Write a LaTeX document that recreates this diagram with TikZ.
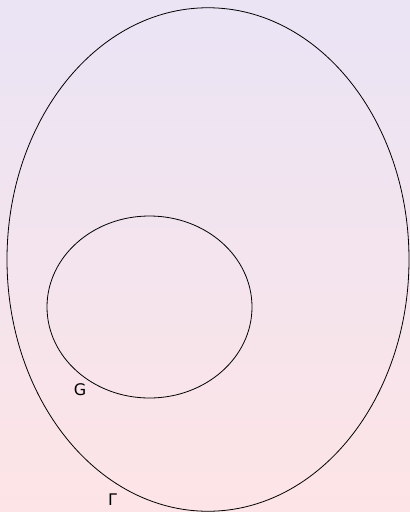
\documentclass[tikz,border=0pt]{standalone}
\usepackage{fontspec}
\setmainfont{DejaVu Sans}
\usepackage{tikz}
\usetikzlibrary{shapes.geometric}
\definecolor{bgtop}{RGB}{234,228,245}
\definecolor{bgbottom}{RGB}{253,228,230}

\begin{document}
\begin{tikzpicture}[x=1pt,y=-1pt,
  set/.style={ellipse,draw,line width=0.8pt,inner sep=0pt},
  setname/.style={font=\fontsize{16}{18}\selectfont,inner sep=0pt}]
\shade[top color=bgtop,bottom color=bgbottom] (0,0) rectangle (410,512);
\useasboundingbox (0,0) rectangle (410,512);
% outer set and the subset inside it
\node [set,minimum width=402pt,minimum height=503.5pt] (gamma) at (208,259.5) {};
\node [set,minimum width=205pt,minimum height=182pt] (g) at (149.5,307) {};
\node [setname] (glabel) at (80,389.5) {G};
\node [setname] (gammalabel) at (112.5,499.5) {Γ};
\end{tikzpicture}
\end{document}
